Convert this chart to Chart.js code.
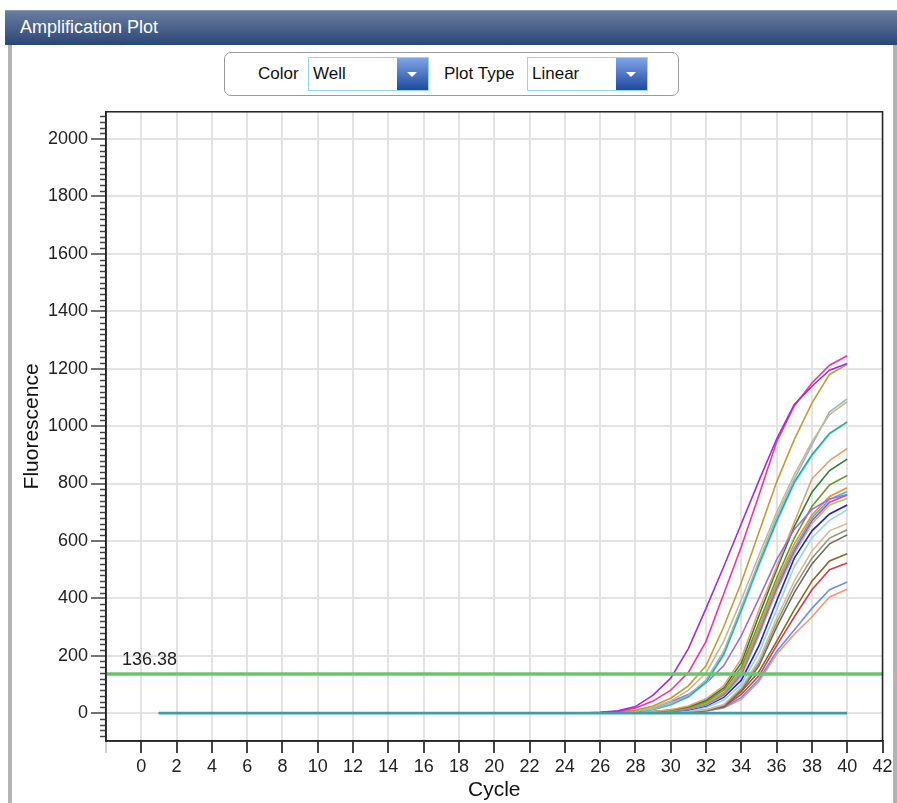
<!DOCTYPE html>
<html><head><meta charset="utf-8">
<script src="https://cdn.jsdelivr.net/npm/chart.js@4"></script>
<style>
html,body{margin:0;padding:0;width:897px;height:803px;overflow:hidden;background:#fff;font-family:"Liberation Sans",Arial,sans-serif;}
#frameL{position:absolute;left:8px;top:45px;width:4px;height:758px;background:#b3b3b3;}
#frameR{position:absolute;left:893px;top:45px;width:4px;height:758px;background:#b3b3b3;}
#header{position:absolute;left:5px;top:10px;width:892px;height:35px;background:linear-gradient(#6a7da0,#2b4676);border-top:1px solid #8a9ab8;box-sizing:border-box;color:#fff;font-size:18px;line-height:33px;padding-left:15px;}
#ctrl{position:absolute;left:224px;top:52px;width:455px;height:44px;border:1px solid #9a9a9a;border-radius:7px;box-sizing:border-box;background:#fff;}
.lbl{position:absolute;top:0;line-height:42px;font-size:17px;color:#111;}
.sel{position:absolute;top:4px;height:34px;border:1px solid #8fd8f0;box-sizing:border-box;background:#fff;font-size:17px;line-height:32px;padding-left:4px;color:#111;}
.btn{position:absolute;right:0;top:0;width:31px;height:32px;background:linear-gradient(#80a4e6,#1d4aa0);}
.btn:after{content:"";position:absolute;left:10px;top:14px;border-left:5px solid transparent;border-right:5px solid transparent;border-top:5px solid #fff;}
#wrap{position:absolute;left:0;top:98px;width:897px;height:705px;}
</style></head>
<body>
<div id="frameL"></div><div id="frameR"></div>
<div id="header">Amplification Plot</div>
<div id="ctrl">
  <div class="lbl" style="left:33px">Color</div>
  <div class="sel" style="left:83px;width:121px">Well<div class="btn"></div></div>
  <div class="lbl" style="left:219px">Plot Type</div>
  <div class="sel" style="left:302px;width:121px">Linear<div class="btn"></div></div>
</div>
<div id="wrap"><canvas id="c" width="897" height="705"></canvas></div>
<script>
// ---- data ----
const cycles = [1,2,3,4,5,6,7,8,9,10,11,12,13,14,15,16,17,18,19,20,21,22,23,24,25,26,27,28,29,30,31,32,33,34,35,36,37,38,39,40];
const xTicks = [-2,0,2,4,6,8,10,12,14,16,18,20,22,24,26,28,30,32,34,36,38,40,42];
const yTicks = [0,200,400,600,800,1000,1200,1400,1600,1800,2000];
const threshold = 136.38;

const wellNTC = [0,0,0,0,0,0,0,0,0,0,0,0,0,0,0,0,0,0,0,0,0,0,0,0,0,0,0,0,0,0,0,0,0,0,0,0,0,0,0,0];
const wellA1 = [0,0,0,0,0,0,0,0,0,0,0,0,0,0,0,0,0,0,0,0,0,0,0,0,0,3,8,23,63,122,225,365,510,660,810,955,1075,1139,1195,1218];
const wellA2 = [0,0,0,0,0,0,0,0,0,0,0,0,0,0,0,0,0,0,0,0,0,0,0,0,0,2,6,18,42,80,142,250,415,580,760,945,1070,1150,1212,1245];
const wellA3 = [0,0,0,0,0,0,0,0,0,0,0,0,0,0,0,0,0,0,0,0,0,0,0,0,0,1,4,10,25,52,95,165,300,455,630,805,953,1080,1180,1215];
const wellA4 = [0,0,0,0,0,0,0,0,0,0,0,0,0,0,0,0,0,0,0,0,0,0,0,0,0,1,3,8,20,42,80,140,250,395,550,700,830,945,1040,1085];
const wellA5 = [0,0,0,0,0,0,0,0,0,0,0,0,0,0,0,0,0,0,0,0,0,0,0,0,0,0,2,6,15,33,62,115,215,370,530,685,815,935,1050,1095];
const wellA6 = [0,0,0,0,0,0,0,0,0,0,0,0,0,0,0,0,0,0,0,0,0,0,0,0,0,0,2,5,13,30,58,108,205,360,520,670,805,900,975,1015];
const wellA7 = [0,0,0,0,0,0,0,0,0,0,0,0,0,0,0,0,0,0,0,0,0,0,0,0,0,0,2,5,12,28,55,104,200,352,512,662,798,895,972,1012];
const wellB0 = [0,0,0,0,0,0,0,0,0,0,0,0,0,0,0,0,0,0,0,0,0,0,0,0,0,1,3,8,18,40,65,105,165,270,400,535,640,710,746,762];
const wellB1 = [0,0,0,0,0,0,0,0,0,0,0,0,0,0,0,0,0,0,0,0,0,0,0,0,0,0,1,3,6,12,25,50,95,190,360,510,665,816,880,922];
const wellB2 = [0,0,0,0,0,0,0,0,0,0,0,0,0,0,0,0,0,0,0,0,0,0,0,0,0,0,1,3,6,11,22,45,88,175,340,500,650,770,845,885];
const wellB3 = [0,0,0,0,0,0,0,0,0,0,0,0,0,0,0,0,0,0,0,0,0,0,0,0,0,0,1,2,5,10,20,40,80,160,315,470,610,720,795,828];
const wellB4 = [0,0,0,0,0,0,0,0,0,0,0,0,0,0,0,0,0,0,0,0,0,0,0,0,0,0,1,2,5,9,18,35,72,148,300,455,590,690,755,785];
const wellB5 = [0,0,0,0,0,0,0,0,0,0,0,0,0,0,0,0,0,0,0,0,0,0,0,0,0,0,1,2,4,8,16,32,68,140,290,445,575,680,745,772];
const wellB6 = [0,0,0,0,0,0,0,0,0,0,0,0,0,0,0,0,0,0,0,0,0,0,0,0,0,0,1,2,4,8,15,30,65,135,280,435,565,670,735,760];
const wellB7 = [0,0,0,0,0,0,0,0,0,0,0,0,0,0,0,0,0,0,0,0,0,0,0,0,0,0,1,2,4,7,14,28,60,128,270,425,555,660,725,748];
const wellB8 = [0,0,0,0,0,0,0,0,0,0,0,0,0,0,0,0,0,0,0,0,0,0,0,0,0,0,1,2,3,6,12,25,55,115,235,391,540,635,694,725];
const wellB9 = [0,0,0,0,0,0,0,0,0,0,0,0,0,0,0,0,0,0,0,0,0,0,0,0,0,0,0,1,3,5,10,20,45,100,210,360,510,610,672,708];
const wellC1 = [0,0,0,0,0,0,0,0,0,0,0,0,0,0,0,0,0,0,0,0,0,0,0,0,0,0,0,1,2,4,7,12,30,90,185,330,460,565,635,661];
const wellC2 = [0,0,0,0,0,0,0,0,0,0,0,0,0,0,0,0,0,0,0,0,0,0,0,0,0,0,0,1,2,4,7,11,28,85,175,315,440,540,610,639];
const wellC3 = [0,0,0,0,0,0,0,0,0,0,0,0,0,0,0,0,0,0,0,0,0,0,0,0,0,0,0,1,2,3,6,10,26,80,165,300,420,520,590,621];
const wellC4 = [0,0,0,0,0,0,0,0,0,0,0,0,0,0,0,0,0,0,0,0,0,0,0,0,0,0,0,1,2,3,6,10,24,75,145,250,360,460,530,555];
const wellC5 = [0,0,0,0,0,0,0,0,0,0,0,0,0,0,0,0,0,0,0,0,0,0,0,0,0,0,0,1,2,3,5,9,22,65,130,235,335,430,500,523];
const wellC6 = [0,0,0,0,0,0,0,0,0,0,0,0,0,0,0,0,0,0,0,0,0,0,0,0,0,0,0,1,2,3,5,8,20,55,118,215,290,365,430,457];
const wellC7 = [0,0,0,0,0,0,0,0,0,0,0,0,0,0,0,0,0,0,0,0,0,0,0,0,0,0,0,1,2,3,5,8,18,48,110,205,275,335,405,432];

const wells = [
  ['NTC', wellNTC, '#3f9ea4'],
  ['A1', wellA1, '#a42ae6'],
  ['A2', wellA2, '#ff2f9e'],
  ['A3', wellA3, '#c49a34'],
  ['A4', wellA4, '#c2bb8c'],
  ['A5', wellA5, '#9fb3c9'],
  ['A6', wellA6, '#2aa89e'],
  ['A7', wellA7, '#86ead6'],
  ['B0', wellB0, '#9b6fe0'],
  ['B1', wellB1, '#e2a06e'],
  ['B2', wellB2, '#2e7d32'],
  ['B3', wellB3, '#6f9a2a'],
  ['B4', wellB4, '#ff8c1a'],
  ['B5', wellB5, '#22c6e0'],
  ['B6', wellB6, '#f033c8'],
  ['B7', wellB7, '#a6d448'],
  ['B8', wellB8, '#1c1cf2'],
  ['B9', wellB9, '#93d4f5'],
  ['C1', wellC1, '#dabb96'],
  ['C2', wellC2, '#8c9b7c'],
  ['C3', wellC3, '#6f6a5a'],
  ['C4', wellC4, '#7b6c2c'],
  ['C5', wellC5, '#d23c4b'],
  ['C6', wellC6, '#6c8ff0'],
  ['C7', wellC7, '#ff9270']
];

const datasets = wells.map(([name, vals, color]) => ({
  label: name,
  data: vals.map((v, i) => ({x: cycles[i], y: v})),
  borderColor: color,
  borderWidth: name === 'NTC' ? 2.6 : 1.6,
  pointRadius: 0,
  tension: 0,
  fill: false
}));

const extras = {
  id: 'extras',
  afterDatasetsDraw(chart) {
    const {ctx, chartArea: a, scales: {x, y}} = chart;
    const ty = y.getPixelForValue(threshold);
    ctx.save();
    ctx.strokeStyle = '#6cc46c';
    ctx.lineWidth = 3.5;
    ctx.beginPath(); ctx.moveTo(a.left, ty); ctx.lineTo(a.right, ty); ctx.stroke();
    ctx.fillStyle = '#222';
    ctx.font = '18px "Liberation Sans", Arial, sans-serif';
    ctx.textBaseline = 'alphabetic';
    ctx.fillText(threshold.toFixed(2), a.left + 16, ty - 9);
    ctx.restore();
  },
  afterDraw(chart) {
    const {ctx, chartArea: a, scales: {y}} = chart;
    ctx.save();
    ctx.strokeStyle = '#444';
    ctx.lineWidth = 1.5;
    ctx.beginPath();
    for (let v = -80; v <= 2080; v += 20) {
      if (v % 200 === 0) continue;
      const py = Math.round(y.getPixelForValue(v)) + 0.5;
      ctx.moveTo(a.left - 6, py); ctx.lineTo(a.left, py);
    }
    ctx.stroke();
    ctx.strokeStyle = '#222';
    ctx.lineWidth = 1.5;
    ctx.strokeRect(a.left, a.top, a.right - a.left, a.bottom - a.top);
    ctx.restore();
  }
};

const tickFont = {family: '"Liberation Sans", Arial, sans-serif', size: 18};
const titleFont = {family: '"Liberation Sans", Arial, sans-serif', size: 21};

new Chart(document.getElementById('c'), {
  type: 'line',
  data: {datasets},
  options: {
    responsive: false,
    animation: false,
    devicePixelRatio: 1,
    layout: {padding: {top: 9, right: 14.5, left: 0, bottom: 0}},
    plugins: {legend: {display: false}, tooltip: {enabled: false}},
    scales: {
      x: {
        type: 'linear', min: -2, max: 42,
        afterBuildTicks: s => { s.ticks = xTicks.map(v => ({value: v})); },
        afterFit: s => { s.height = 62; },
        ticks: {callback: v => v === -2 ? '' : String(v), font: tickFont, color: '#222', padding: 3, maxRotation: 0, autoSkip: false},
        grid: {color: '#e3e3e3', lineWidth: 2, tickLength: 12, tickWidth: 2,
               tickColor: c => (c.tick && c.tick.value === -2) ? '#cfcfcf' : '#444'},
        border: {display: true, color: '#222', width: 1.5},
        title: {display: true, text: 'Cycle', font: titleFont, color: '#111', padding: {top: 0, bottom: 0}}
      },
      y: {
        type: 'linear', min: -97, max: 2095,
        afterBuildTicks: s => { s.ticks = yTicks.map(v => ({value: v})); },
        afterFit: s => { s.width = 106; },
        ticks: {callback: v => String(v), font: tickFont, color: '#222', padding: 3},
        grid: {color: '#e3e3e3', lineWidth: 2, tickLength: 15, tickWidth: 1.5, tickColor: '#444'},
        border: {display: true, color: '#222', width: 1.5},
        title: {display: true, text: 'Fluorescence', font: titleFont, color: '#111', padding: {top: 20, bottom: 0}}
      }
    }
  },
  plugins: [extras]
});
</script>
</body></html>
